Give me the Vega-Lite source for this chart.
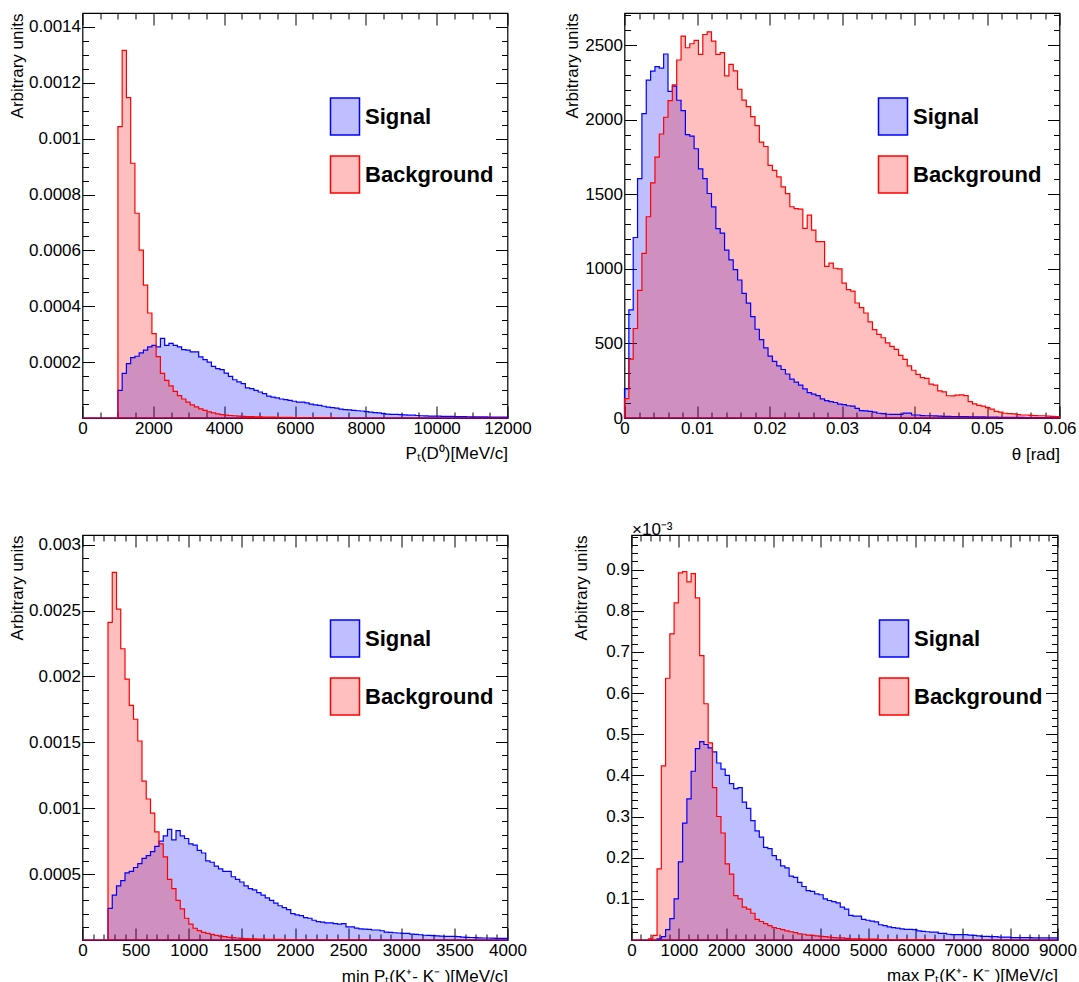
{
  "$schema": "https://vega.github.io/schema/vega-lite/v6.json",
  "background": "white",
  "padding": {"left": 7.5, "top": 11, "right": 0, "bottom": 0},
  "config": {
    "font": "Liberation Sans",
    "view": {"stroke": "black", "strokeWidth": 1.2},
    "axis": {"domain": false, "grid": false, "ticks": true, "tickColor": "black", "tickWidth": 1, "labelFont": "Liberation Sans", "labelFontSize": 17, "labelColor": "black", "titleFont": "Liberation Sans", "titleFontSize": 17, "titleFontWeight": "normal", "titleColor": "black", "labelOverlap": false, "labelFlush": false, "zindex": 1},
    "legend": {"orient": "none", "title": null, "padding": 0, "symbolType": "M-0.784,-1H0.784V1H-0.784Z", "symbolSize": 1369, "labelFont": "Liberation Sans", "labelFontSize": 22, "labelFontWeight": "bold", "labelColor": "black", "labelOffset": 0.5, "rowPadding": 15}
  },
  "datasets": {
    "p1": [
      {"x":0,"s":0,"b":0},
      {"x":1000,"s":0.000099,"b":0.001043},
      {"x":1120,"s":0.00016,"b":0.001316},
      {"x":1240,"s":0.000195,"b":0.001147},
      {"x":1360,"s":0.000216,"b":0.000912},
      {"x":1480,"s":0.000221,"b":0.000733},
      {"x":1600,"s":0.000233,"b":0.000601},
      {"x":1720,"s":0.000243,"b":0.000476},
      {"x":1840,"s":0.000255,"b":0.000376},
      {"x":1960,"s":0.00026,"b":0.000302},
      {"x":2080,"s":0.000255,"b":0.00022},
      {"x":2200,"s":0.000285,"b":0.00016},
      {"x":2320,"s":0.00026,"b":0.000135},
      {"x":2440,"s":0.000267,"b":0.000115},
      {"x":2560,"s":0.00026,"b":0.000095},
      {"x":2680,"s":0.000255,"b":0.00008},
      {"x":2800,"s":0.000245,"b":0.000068},
      {"x":2920,"s":0.000243,"b":0.000057},
      {"x":3040,"s":0.000237,"b":0.000047},
      {"x":3160,"s":0.000237,"b":0.00004},
      {"x":3280,"s":0.000219,"b":0.000033},
      {"x":3400,"s":0.000209,"b":0.000027},
      {"x":3520,"s":0.0002,"b":0.000022},
      {"x":3640,"s":0.000185,"b":0.000018},
      {"x":3760,"s":0.000177,"b":0.000015},
      {"x":3880,"s":0.000173,"b":0.000012},
      {"x":4000,"s":0.000161,"b":0.00001},
      {"x":4120,"s":0.000149,"b":0.000009},
      {"x":4240,"s":0.000137,"b":0.000008},
      {"x":4360,"s":0.000129,"b":0.000007},
      {"x":4480,"s":0.000123,"b":0.000006},
      {"x":4600,"s":0.000108,"b":0.000005},
      {"x":4720,"s":0.000105,"b":0.000005},
      {"x":4840,"s":0.000099,"b":0.000004},
      {"x":4960,"s":0.000093,"b":0.000004},
      {"x":5080,"s":0.000087,"b":0.000003},
      {"x":5200,"s":0.000078,"b":0.000003},
      {"x":5320,"s":0.000075,"b":0.000003},
      {"x":5440,"s":0.000072,"b":0.000002},
      {"x":5560,"s":0.000068,"b":0.000002},
      {"x":5680,"s":0.000066,"b":0.000002},
      {"x":5800,"s":0.000063,"b":0.000002},
      {"x":5920,"s":0.00006,"b":0.000001},
      {"x":6040,"s":0.000057,"b":0.000001},
      {"x":6160,"s":0.000057,"b":0.000001},
      {"x":6280,"s":0.000054,"b":0.000001},
      {"x":6400,"s":0.00005,"b":0.000001},
      {"x":6520,"s":0.000047,"b":0.000001},
      {"x":6640,"s":0.000045,"b":0.000001},
      {"x":6760,"s":0.000042,"b":0.000001},
      {"x":6880,"s":0.000039,"b":0.000001},
      {"x":7000,"s":0.000037,"b":0.000001},
      {"x":7120,"s":0.000035,"b":0},
      {"x":7240,"s":0.000032,"b":0},
      {"x":7360,"s":0.00003,"b":0},
      {"x":7480,"s":0.000029,"b":0},
      {"x":7600,"s":0.000027,"b":0},
      {"x":7720,"s":0.000026,"b":0},
      {"x":7840,"s":0.000025,"b":0},
      {"x":7960,"s":0.000023,"b":0},
      {"x":8080,"s":0.000021,"b":0},
      {"x":8200,"s":0.000019,"b":0},
      {"x":8320,"s":0.000018,"b":0},
      {"x":8440,"s":0.000016,"b":0},
      {"x":8560,"s":0.000014,"b":0},
      {"x":8680,"s":0.000013,"b":0},
      {"x":8800,"s":0.000013,"b":0},
      {"x":8920,"s":0.000012,"b":0},
      {"x":9040,"s":0.000011,"b":0},
      {"x":9160,"s":0.00001,"b":0},
      {"x":9280,"s":0.00001,"b":0},
      {"x":9400,"s":0.000009,"b":0},
      {"x":9520,"s":0.000008,"b":0},
      {"x":9640,"s":0.0000075,"b":0},
      {"x":9760,"s":0.000007,"b":0},
      {"x":9880,"s":0.000007,"b":0},
      {"x":10000,"s":0.0000065,"b":0},
      {"x":10120,"s":0.000006,"b":0},
      {"x":10240,"s":0.000006,"b":0},
      {"x":10360,"s":0.0000055,"b":0},
      {"x":10480,"s":0.000005,"b":0},
      {"x":10600,"s":0.000005,"b":0},
      {"x":10720,"s":0.0000048,"b":0},
      {"x":10840,"s":0.0000045,"b":0},
      {"x":10960,"s":0.0000042,"b":0},
      {"x":11080,"s":0.000004,"b":0},
      {"x":11200,"s":0.000004,"b":0},
      {"x":11320,"s":0.0000038,"b":0},
      {"x":11440,"s":0.0000035,"b":0},
      {"x":11560,"s":0.0000035,"b":0},
      {"x":11680,"s":0.0000033,"b":0},
      {"x":11800,"s":0.000003,"b":0},
      {"x":11920,"s":0.000003,"b":0},
      {"x":12000,"s":0,"b":0}
    ],
    "p2": [
      {"x":0,"s":195,"b":130},
      {"x":0.0006,"s":725,"b":395},
      {"x":0.0012,"s":1210,"b":600},
      {"x":0.0018,"s":1605,"b":856},
      {"x":0.0024,"s":2040,"b":1104},
      {"x":0.003,"s":2265,"b":1349},
      {"x":0.0036,"s":2325,"b":1576},
      {"x":0.0042,"s":2355,"b":1749},
      {"x":0.0048,"s":2345,"b":1904},
      {"x":0.0054,"s":2440,"b":2016},
      {"x":0.006,"s":2190,"b":2127},
      {"x":0.0066,"s":2225,"b":2233},
      {"x":0.0072,"s":2130,"b":2400},
      {"x":0.0078,"s":2060,"b":2560},
      {"x":0.0084,"s":1900,"b":2482},
      {"x":0.009,"s":1890,"b":2509},
      {"x":0.0096,"s":1805,"b":2531},
      {"x":0.0102,"s":1670,"b":2438},
      {"x":0.0108,"s":1605,"b":2571},
      {"x":0.0114,"s":1505,"b":2589},
      {"x":0.012,"s":1415,"b":2527},
      {"x":0.0126,"s":1270,"b":2438},
      {"x":0.0132,"s":1240,"b":2449},
      {"x":0.0138,"s":1125,"b":2293},
      {"x":0.0144,"s":1060,"b":2371},
      {"x":0.015,"s":995,"b":2327},
      {"x":0.0156,"s":925,"b":2204},
      {"x":0.0162,"s":835,"b":2131},
      {"x":0.0168,"s":770,"b":2087},
      {"x":0.0174,"s":680,"b":2020},
      {"x":0.018,"s":595,"b":1960},
      {"x":0.0186,"s":525,"b":1849},
      {"x":0.0192,"s":470,"b":1820},
      {"x":0.0198,"s":415,"b":1693},
      {"x":0.0204,"s":380,"b":1660},
      {"x":0.021,"s":350,"b":1616},
      {"x":0.0216,"s":325,"b":1549},
      {"x":0.0222,"s":295,"b":1504},
      {"x":0.0228,"s":260,"b":1416},
      {"x":0.0234,"s":240,"b":1404},
      {"x":0.024,"s":220,"b":1400},
      {"x":0.0246,"s":195,"b":1271},
      {"x":0.0252,"s":170,"b":1360},
      {"x":0.0258,"s":160,"b":1260},
      {"x":0.0264,"s":150,"b":1182},
      {"x":0.027,"s":128,"b":1182},
      {"x":0.0276,"s":116,"b":1016},
      {"x":0.0282,"s":110,"b":1038},
      {"x":0.0288,"s":104,"b":1004},
      {"x":0.0294,"s":93,"b":1000},
      {"x":0.03,"s":90,"b":904},
      {"x":0.0306,"s":82,"b":860},
      {"x":0.0312,"s":80,"b":850},
      {"x":0.0318,"s":65,"b":771},
      {"x":0.0324,"s":50,"b":740},
      {"x":0.033,"s":48,"b":704},
      {"x":0.0336,"s":45,"b":644},
      {"x":0.0342,"s":40,"b":593},
      {"x":0.0348,"s":32,"b":560},
      {"x":0.0354,"s":30,"b":538},
      {"x":0.036,"s":25,"b":504},
      {"x":0.0366,"s":24,"b":480},
      {"x":0.0372,"s":24,"b":460},
      {"x":0.0378,"s":24,"b":420},
      {"x":0.0384,"s":33,"b":393},
      {"x":0.039,"s":33,"b":349},
      {"x":0.0396,"s":20,"b":320},
      {"x":0.0402,"s":20,"b":293},
      {"x":0.0408,"s":16,"b":271},
      {"x":0.0414,"s":15,"b":265},
      {"x":0.042,"s":15,"b":227},
      {"x":0.0426,"s":14,"b":220},
      {"x":0.0432,"s":13,"b":182},
      {"x":0.0438,"s":11,"b":175},
      {"x":0.0444,"s":11,"b":149},
      {"x":0.045,"s":10,"b":148},
      {"x":0.0456,"s":10,"b":153},
      {"x":0.0462,"s":9,"b":155},
      {"x":0.0468,"s":9,"b":150},
      {"x":0.0474,"s":8,"b":110},
      {"x":0.048,"s":8,"b":95},
      {"x":0.0486,"s":7,"b":85},
      {"x":0.0492,"s":7,"b":80},
      {"x":0.0498,"s":6,"b":70},
      {"x":0.0504,"s":6,"b":60},
      {"x":0.051,"s":6,"b":45},
      {"x":0.0516,"s":5,"b":40},
      {"x":0.0522,"s":5,"b":32},
      {"x":0.0528,"s":5,"b":30},
      {"x":0.0534,"s":4,"b":28},
      {"x":0.054,"s":4,"b":22},
      {"x":0.0546,"s":4,"b":20},
      {"x":0.0552,"s":3,"b":20},
      {"x":0.0558,"s":3,"b":18},
      {"x":0.0564,"s":3,"b":16},
      {"x":0.057,"s":3,"b":15},
      {"x":0.0576,"s":2,"b":15},
      {"x":0.0582,"s":2,"b":12},
      {"x":0.0588,"s":2,"b":11},
      {"x":0.0594,"s":2,"b":10},
      {"x":0.06,"s":0,"b":0}
    ],
    "p3": [
      {"x":0,"s":0,"b":0},
      {"x":240,"s":0.00024,"b":0.00241},
      {"x":280,"s":0.00034,"b":0.00279},
      {"x":320,"s":0.00041,"b":0.00251},
      {"x":360,"s":0.00045,"b":0.00221},
      {"x":400,"s":0.00051,"b":0.00198},
      {"x":440,"s":0.00052,"b":0.00178},
      {"x":480,"s":0.00055,"b":0.001675},
      {"x":520,"s":0.00058,"b":0.00151},
      {"x":560,"s":0.00062,"b":0.001205},
      {"x":600,"s":0.00064,"b":0.00107},
      {"x":640,"s":0.00067,"b":0.000963},
      {"x":680,"s":0.00071,"b":0.00082},
      {"x":720,"s":0.00075,"b":0.00073},
      {"x":760,"s":0.00079,"b":0.00063},
      {"x":800,"s":0.00084,"b":0.00046},
      {"x":840,"s":0.00076,"b":0.00039},
      {"x":880,"s":0.00083,"b":0.0003},
      {"x":920,"s":0.00079,"b":0.000236},
      {"x":960,"s":0.00077,"b":0.000165},
      {"x":1000,"s":0.00073,"b":0.00012},
      {"x":1040,"s":0.00072,"b":0.000089},
      {"x":1080,"s":0.00068,"b":0.000071},
      {"x":1120,"s":0.00066,"b":0.000058},
      {"x":1160,"s":0.0006,"b":0.00005},
      {"x":1200,"s":0.00059,"b":0.000042},
      {"x":1240,"s":0.00056,"b":0.000035},
      {"x":1280,"s":0.00054,"b":0.00003},
      {"x":1320,"s":0.00052,"b":0.000025},
      {"x":1360,"s":0.00052,"b":0.00002},
      {"x":1400,"s":0.00048,"b":0.000018},
      {"x":1440,"s":0.00046,"b":0.000015},
      {"x":1480,"s":0.00044,"b":0.000013},
      {"x":1520,"s":0.00041,"b":0.000011},
      {"x":1560,"s":0.00039,"b":0.000009},
      {"x":1600,"s":0.00038,"b":0.000008},
      {"x":1640,"s":0.00036,"b":0.000007},
      {"x":1680,"s":0.00034,"b":0.000006},
      {"x":1720,"s":0.00032,"b":0.000005},
      {"x":1760,"s":0.0003,"b":0.000005},
      {"x":1800,"s":0.00028,"b":0.000004},
      {"x":1840,"s":0.00026,"b":0.000004},
      {"x":1880,"s":0.000245,"b":0.000003},
      {"x":1920,"s":0.00023,"b":0.000003},
      {"x":1960,"s":0.0002,"b":0.000003},
      {"x":2000,"s":0.00019,"b":0.000002},
      {"x":2040,"s":0.000185,"b":0.000002},
      {"x":2080,"s":0.00017,"b":0.000002},
      {"x":2120,"s":0.000165,"b":0.000002},
      {"x":2160,"s":0.00015,"b":0.000001},
      {"x":2200,"s":0.00014,"b":0.000001},
      {"x":2240,"s":0.000135,"b":0.000001},
      {"x":2280,"s":0.00013,"b":0.000001},
      {"x":2320,"s":0.00013,"b":0.000001},
      {"x":2360,"s":0.000125,"b":0.000001},
      {"x":2400,"s":0.00012,"b":0.000001},
      {"x":2440,"s":0.000125,"b":0.000001},
      {"x":2480,"s":0.0001,"b":0.000001},
      {"x":2520,"s":0.0001,"b":0.000001},
      {"x":2560,"s":0.00009,"b":0.000001},
      {"x":2600,"s":0.000085,"b":0.000001},
      {"x":2640,"s":0.000083,"b":0.000001},
      {"x":2680,"s":0.00008,"b":0},
      {"x":2720,"s":0.000076,"b":0},
      {"x":2760,"s":0.000076,"b":0},
      {"x":2800,"s":0.00007,"b":0},
      {"x":2840,"s":0.00006,"b":0},
      {"x":2880,"s":0.000058,"b":0},
      {"x":2920,"s":0.000055,"b":0},
      {"x":2960,"s":0.000053,"b":0},
      {"x":3000,"s":0.00005,"b":0},
      {"x":3040,"s":0.00005,"b":0},
      {"x":3080,"s":0.000045,"b":0},
      {"x":3120,"s":0.000042,"b":0},
      {"x":3160,"s":0.00004,"b":0},
      {"x":3200,"s":0.000036,"b":0},
      {"x":3240,"s":0.000035,"b":0},
      {"x":3280,"s":0.000033,"b":0},
      {"x":3320,"s":0.000032,"b":0},
      {"x":3360,"s":0.00003,"b":0},
      {"x":3400,"s":0.000028,"b":0},
      {"x":3440,"s":0.000028,"b":0},
      {"x":3480,"s":0.000027,"b":0},
      {"x":3520,"s":0.000025,"b":0},
      {"x":3560,"s":0.000022,"b":0},
      {"x":3600,"s":0.00002,"b":0},
      {"x":3640,"s":0.000019,"b":0},
      {"x":3680,"s":0.000018,"b":0},
      {"x":3720,"s":0.000016,"b":0},
      {"x":3760,"s":0.000015,"b":0},
      {"x":3800,"s":0.000015,"b":0},
      {"x":3840,"s":0.000014,"b":0},
      {"x":3880,"s":0.000013,"b":0},
      {"x":3920,"s":0.000013,"b":0},
      {"x":3960,"s":0.000012,"b":0},
      {"x":4000,"s":0,"b":0}
    ],
    "p4": [
      {"x":0,"s":0,"b":0},
      {"x":90,"s":0,"b":0},
      {"x":180,"s":0,"b":0},
      {"x":270,"s":0,"b":0},
      {"x":360,"s":0,"b":0.000003},
      {"x":450,"s":0,"b":0.000011},
      {"x":540,"s":0.000003,"b":0.000173},
      {"x":630,"s":0.000008,"b":0.000423},
      {"x":720,"s":0.000025,"b":0.000636},
      {"x":810,"s":0.000052,"b":0.000744},
      {"x":900,"s":0.0001,"b":0.000819},
      {"x":990,"s":0.00019,"b":0.000892},
      {"x":1080,"s":0.000284,"b":0.000895},
      {"x":1170,"s":0.000343,"b":0.00087},
      {"x":1260,"s":0.00041,"b":0.00089},
      {"x":1350,"s":0.000465,"b":0.000831},
      {"x":1440,"s":0.000482,"b":0.000691},
      {"x":1530,"s":0.000475,"b":0.000574},
      {"x":1620,"s":0.000467,"b":0.000479},
      {"x":1710,"s":0.000457,"b":0.00037},
      {"x":1800,"s":0.00043,"b":0.0003},
      {"x":1890,"s":0.000415,"b":0.00026},
      {"x":1980,"s":0.0004,"b":0.000185},
      {"x":2070,"s":0.00038,"b":0.00016},
      {"x":2160,"s":0.000368,"b":0.000108},
      {"x":2250,"s":0.00037,"b":0.0001},
      {"x":2340,"s":0.000335,"b":0.00008},
      {"x":2430,"s":0.00032,"b":0.000075},
      {"x":2520,"s":0.00029,"b":0.000065},
      {"x":2610,"s":0.000265,"b":0.00005},
      {"x":2700,"s":0.00025,"b":0.000045},
      {"x":2790,"s":0.000225,"b":0.00004},
      {"x":2880,"s":0.000222,"b":0.000035},
      {"x":2970,"s":0.000205,"b":0.00003},
      {"x":3060,"s":0.000195,"b":0.000028},
      {"x":3150,"s":0.00018,"b":0.000025},
      {"x":3240,"s":0.000175,"b":0.000022},
      {"x":3330,"s":0.000155,"b":0.00002},
      {"x":3420,"s":0.000152,"b":0.000018},
      {"x":3510,"s":0.00014,"b":0.000015},
      {"x":3600,"s":0.00013,"b":0.000014},
      {"x":3690,"s":0.00012,"b":0.000012},
      {"x":3780,"s":0.000118,"b":0.000011},
      {"x":3870,"s":0.000112,"b":0.00001},
      {"x":3960,"s":0.00011,"b":0.000009},
      {"x":4050,"s":0.0001,"b":0.000008},
      {"x":4140,"s":0.000096,"b":0.000007},
      {"x":4230,"s":0.000093,"b":0.000006},
      {"x":4320,"s":0.00009,"b":0.000005},
      {"x":4410,"s":0.00008,"b":0.000005},
      {"x":4500,"s":0.000075,"b":0.000004},
      {"x":4590,"s":0.00006,"b":0.000003},
      {"x":4680,"s":0.000058,"b":0.000003},
      {"x":4770,"s":0.000058,"b":0.000003},
      {"x":4860,"s":0.00005,"b":0.000002},
      {"x":4950,"s":0.000048,"b":0.000002},
      {"x":5040,"s":0.000046,"b":0.000002},
      {"x":5130,"s":0.000044,"b":0.000002},
      {"x":5220,"s":0.000037,"b":0.000001},
      {"x":5310,"s":0.000035,"b":0.000001},
      {"x":5400,"s":0.000032,"b":0.000001},
      {"x":5490,"s":0.00003,"b":0.000001},
      {"x":5580,"s":0.000029,"b":0.000001},
      {"x":5670,"s":0.000027,"b":0.000001},
      {"x":5760,"s":0.000026,"b":0.000001},
      {"x":5850,"s":0.000026,"b":0.000001},
      {"x":5940,"s":0.000025,"b":0.000001},
      {"x":6030,"s":0.000022,"b":0.000001},
      {"x":6120,"s":0.000021,"b":0.000001},
      {"x":6210,"s":0.00002,"b":0.000001},
      {"x":6300,"s":0.000019,"b":0.000001},
      {"x":6390,"s":0.000019,"b":0},
      {"x":6480,"s":0.000016,"b":0},
      {"x":6570,"s":0.000016,"b":0},
      {"x":6660,"s":0.000014,"b":0},
      {"x":6750,"s":0.000013,"b":0},
      {"x":6840,"s":0.000013,"b":0},
      {"x":6930,"s":0.000013,"b":0},
      {"x":7020,"s":0.000013,"b":0},
      {"x":7110,"s":0.000012,"b":0},
      {"x":7200,"s":0.000011,"b":0},
      {"x":7290,"s":0.00001,"b":0},
      {"x":7380,"s":0.000009,"b":0},
      {"x":7470,"s":0.000009,"b":0},
      {"x":7560,"s":0.000008,"b":0},
      {"x":7650,"s":0.000008,"b":0},
      {"x":7740,"s":0.000007,"b":0},
      {"x":7830,"s":0.000007,"b":0},
      {"x":7920,"s":0.000007,"b":0},
      {"x":8010,"s":0.000006,"b":0},
      {"x":8100,"s":0.000006,"b":0},
      {"x":8190,"s":0.000006,"b":0},
      {"x":8280,"s":0.000006,"b":0},
      {"x":8370,"s":0.000006,"b":0},
      {"x":8460,"s":0.000005,"b":0},
      {"x":8550,"s":0.000005,"b":0},
      {"x":8640,"s":0.000005,"b":0},
      {"x":8730,"s":0.000005,"b":0},
      {"x":8820,"s":0.000005,"b":0},
      {"x":8910,"s":0.000005,"b":0},
      {"x":9000,"s":0,"b":0}
    ]
  },
  "spacing": 56,
  "resolve": {"scale": {"color": "independent"}, "legend": {"color": "independent"}},
  "vconcat": [
    {
      "spacing": 117,
      "bounds": "flush",
      "resolve": {"scale": {"color": "independent"}, "legend": {"color": "independent"}},
      "hconcat": [
        {
          "width": 425, "height": 405,
          "data": {"name": "p1"},
          "resolve": {"axis": {"x": "independent", "y": "independent"}},
          "layer": [
            {
              "mark": {"type": "area", "interpolate": "step-after", "fillOpacity": 0.25},
              "encoding": {
                "x": {"field": "x", "type": "quantitative", "scale": {"domain": [0, 12000], "nice": false, "zero": false},
                      "axis": {"orient": "bottom", "values": [0, 2000, 4000, 6000, 8000, 10000, 12000], "labelExpr": "format(datum.value, '~r')", "tickSize": -12, "labelPadding": 14, "title": "Pₜ(D⁰)[MeV/c]", "titleAnchor": "end", "titleY": 40, "titleBaseline": "alphabetic"}},
                "y": {"field": "s", "type": "quantitative", "stack": null, "scale": {"domain": [0, 0.00145], "nice": false},
                      "axis": {"orient": "left", "values": [0.0002, 0.0004, 0.0006, 0.0008, 0.001, 0.0012, 0.0014], "labelExpr": "format(datum.value, '~r')", "tickSize": -12, "labelPadding": 14, "title": "Arbitrary units", "titleX": -60, "titleY": 0, "titleAngle": -90, "titleAlign": "right", "titleBaseline": "alphabetic"}},
                "color": {"datum": "Signal", "type": "nominal", "scale": {"domain": ["Signal", "Background"], "range": ["#0000ff", "#ff0000"]},
                          "legend": {"legendX": 243, "legendY": 84, "encode": {"symbols": {"update": {"fillOpacity": {"value": 0.25}, "stroke": {"signal": "datum.value === 'Signal' ? '#0000ff' : '#ff0000'"}, "strokeWidth": {"value": 1.5}}}}}}
              }
            },
            {
              "mark": {"type": "area", "interpolate": "step-after", "fillOpacity": 0.25},
              "encoding": {
                "x": {"field": "x", "type": "quantitative", "scale": {"domain": [0, 12000], "nice": false, "zero": false},
                      "axis": {"orient": "top", "values": [0, 2000, 4000, 6000, 8000, 10000, 12000], "labels": false, "tickSize": -12, "title": null}},
                "y": {"field": "b", "type": "quantitative", "stack": null, "scale": {"domain": [0, 0.00145], "nice": false},
                      "axis": {"orient": "right", "values": [0.0002, 0.0004, 0.0006, 0.0008, 0.001, 0.0012, 0.0014], "labels": false, "tickSize": -12, "title": null}},
                "color": {"datum": "Background", "type": "nominal"}
              }
            },
            {
              "mark": {"type": "area", "interpolate": "step-after", "fillOpacity": 0, "stroke": "#0000ff", "strokeWidth": 1.2, "strokeJoin": "miter"},
              "encoding": {
                "x": {"field": "x", "type": "quantitative", "scale": {"domain": [0, 12000], "nice": false, "zero": false},
                      "axis": {"orient": "bottom", "values": [500, 1000, 1500, 2500, 3000, 3500, 4500, 5000, 5500, 6500, 7000, 7500, 8500, 9000, 9500, 10500, 11000, 11500], "labels": false, "tickSize": -6, "title": null}},
                "y": {"field": "s", "type": "quantitative", "stack": null, "scale": {"domain": [0, 0.00145], "nice": false},
                      "axis": {"orient": "left", "values": [0.00005, 0.0001, 0.00015, 0.00025, 0.0003, 0.00035, 0.00045, 0.0005, 0.00055, 0.00065, 0.0007, 0.00075, 0.00085, 0.0009, 0.00095, 0.00105, 0.0011, 0.00115, 0.00125, 0.0013, 0.00135], "labels": false, "tickSize": -6, "title": null}}
              }
            },
            {
              "mark": {"type": "area", "interpolate": "step-after", "fillOpacity": 0, "stroke": "#ff0000", "strokeWidth": 1.2, "strokeJoin": "miter"},
              "encoding": {
                "x": {"field": "x", "type": "quantitative", "scale": {"domain": [0, 12000], "nice": false, "zero": false},
                      "axis": {"orient": "top", "values": [500, 1000, 1500, 2500, 3000, 3500, 4500, 5000, 5500, 6500, 7000, 7500, 8500, 9000, 9500, 10500, 11000, 11500], "labels": false, "tickSize": -6, "title": null}},
                "y": {"field": "b", "type": "quantitative", "stack": null, "scale": {"domain": [0, 0.00145], "nice": false},
                      "axis": {"orient": "right", "values": [0.00005, 0.0001, 0.00015, 0.00025, 0.0003, 0.00035, 0.00045, 0.0005, 0.00055, 0.00065, 0.0007, 0.00075, 0.00085, 0.0009, 0.00095, 0.00105, 0.0011, 0.00115, 0.00125, 0.0013, 0.00135], "labels": false, "tickSize": -6, "title": null}}
              }
            }
          ]
        },
        {
          "width": 435, "height": 405,
          "data": {"name": "p2"},
          "resolve": {"axis": {"x": "independent", "y": "independent"}},
          "layer": [
            {
              "mark": {"type": "area", "interpolate": "step-after", "fillOpacity": 0.25},
              "encoding": {
                "x": {"field": "x", "type": "quantitative", "scale": {"domain": [0, 0.06], "nice": false, "zero": false},
                      "axis": {"orient": "bottom", "values": [0, 0.01, 0.02, 0.03, 0.04, 0.05, 0.06], "labelExpr": "format(datum.value, '~r')", "tickSize": -12, "labelPadding": 14, "title": "θ [rad]", "titleAnchor": "end", "titleY": 41, "titleBaseline": "alphabetic"}},
                "y": {"field": "s", "type": "quantitative", "stack": null, "scale": {"domain": [0, 2715], "nice": false},
                      "axis": {"orient": "left", "values": [0, 500, 1000, 1500, 2000, 2500], "labelExpr": "format(datum.value, '~r')", "tickSize": -12, "labelPadding": 14, "title": "Arbitrary units", "titleX": -47, "titleY": 0, "titleAngle": -90, "titleAlign": "right", "titleBaseline": "alphabetic"}},
                "color": {"datum": "Signal", "type": "nominal", "scale": {"domain": ["Signal", "Background"], "range": ["#0000ff", "#ff0000"]},
                          "legend": {"legendX": 249, "legendY": 84, "encode": {"symbols": {"update": {"fillOpacity": {"value": 0.25}, "stroke": {"signal": "datum.value === 'Signal' ? '#0000ff' : '#ff0000'"}, "strokeWidth": {"value": 1.5}}}}}}
              }
            },
            {
              "mark": {"type": "area", "interpolate": "step-after", "fillOpacity": 0.25},
              "encoding": {
                "x": {"field": "x", "type": "quantitative", "scale": {"domain": [0, 0.06], "nice": false, "zero": false},
                      "axis": {"orient": "top", "values": [0, 0.01, 0.02, 0.03, 0.04, 0.05, 0.06], "labels": false, "tickSize": -12, "title": null}},
                "y": {"field": "b", "type": "quantitative", "stack": null, "scale": {"domain": [0, 2715], "nice": false},
                      "axis": {"orient": "right", "values": [0, 500, 1000, 1500, 2000, 2500], "labels": false, "tickSize": -12, "title": null}},
                "color": {"datum": "Background", "type": "nominal"}
              }
            },
            {
              "mark": {"type": "area", "interpolate": "step-after", "fillOpacity": 0, "stroke": "#0000ff", "strokeWidth": 1.2, "strokeJoin": "miter"},
              "encoding": {
                "x": {"field": "x", "type": "quantitative", "scale": {"domain": [0, 0.06], "nice": false, "zero": false},
                      "axis": {"orient": "bottom", "values": [0.002, 0.004, 0.006, 0.008, 0.012, 0.014, 0.016, 0.018, 0.022, 0.024, 0.026, 0.028, 0.032, 0.034, 0.036, 0.038, 0.042, 0.044, 0.046, 0.048, 0.052, 0.054, 0.056, 0.058], "labels": false, "tickSize": -6, "title": null}},
                "y": {"field": "s", "type": "quantitative", "stack": null, "scale": {"domain": [0, 2715], "nice": false},
                      "axis": {"orient": "left", "values": [100, 200, 300, 400, 600, 700, 800, 900, 1100, 1200, 1300, 1400, 1600, 1700, 1800, 1900, 2100, 2200, 2300, 2400, 2600, 2700], "labels": false, "tickSize": -6, "title": null}}
              }
            },
            {
              "mark": {"type": "area", "interpolate": "step-after", "fillOpacity": 0, "stroke": "#ff0000", "strokeWidth": 1.2, "strokeJoin": "miter"},
              "encoding": {
                "x": {"field": "x", "type": "quantitative", "scale": {"domain": [0, 0.06], "nice": false, "zero": false},
                      "axis": {"orient": "top", "values": [0.002, 0.004, 0.006, 0.008, 0.012, 0.014, 0.016, 0.018, 0.022, 0.024, 0.026, 0.028, 0.032, 0.034, 0.036, 0.038, 0.042, 0.044, 0.046, 0.048, 0.052, 0.054, 0.056, 0.058], "labels": false, "tickSize": -6, "title": null}},
                "y": {"field": "b", "type": "quantitative", "stack": null, "scale": {"domain": [0, 2715], "nice": false},
                      "axis": {"orient": "right", "values": [100, 200, 300, 400, 600, 700, 800, 900, 1100, 1200, 1300, 1400, 1600, 1700, 1800, 1900, 2100, 2200, 2300, 2400, 2600, 2700], "labels": false, "tickSize": -6, "title": null}}
              }
            }
          ]
        }
      ]
    },
    {
      "spacing": 124,
      "bounds": "flush",
      "resolve": {"scale": {"color": "independent"}, "legend": {"color": "independent"}},
      "hconcat": [
        {
          "width": 425, "height": 405,
          "data": {"name": "p3"},
          "resolve": {"axis": {"x": "independent", "y": "independent"}},
          "layer": [
            {
              "mark": {"type": "area", "interpolate": "step-after", "fillOpacity": 0.25},
              "encoding": {
                "x": {"field": "x", "type": "quantitative", "scale": {"domain": [0, 4000], "nice": false, "zero": false},
                      "axis": {"orient": "bottom", "values": [0, 500, 1000, 1500, 2000, 2500, 3000, 3500, 4000], "labelExpr": "format(datum.value, '~r')", "tickSize": -12, "labelPadding": 14, "title": "min Pₜ(K⁺- K⁻ )[MeV/c]", "titleAnchor": "end", "titleY": 41, "titleBaseline": "alphabetic"}},
                "y": {"field": "s", "type": "quantitative", "stack": null, "scale": {"domain": [0, 0.003073], "nice": false},
                      "axis": {"orient": "left", "values": [0.0005, 0.001, 0.0015, 0.002, 0.0025, 0.003], "labelExpr": "format(datum.value, '~r')", "tickSize": -12, "labelPadding": 14, "title": "Arbitrary units", "titleX": -60, "titleY": 0, "titleAngle": -90, "titleAlign": "right", "titleBaseline": "alphabetic"}},
                "color": {"datum": "Signal", "type": "nominal", "scale": {"domain": ["Signal", "Background"], "range": ["#0000ff", "#ff0000"]},
                          "legend": {"legendX": 243, "legendY": 84, "encode": {"symbols": {"update": {"fillOpacity": {"value": 0.25}, "stroke": {"signal": "datum.value === 'Signal' ? '#0000ff' : '#ff0000'"}, "strokeWidth": {"value": 1.5}}}}}}
              }
            },
            {
              "mark": {"type": "area", "interpolate": "step-after", "fillOpacity": 0.25},
              "encoding": {
                "x": {"field": "x", "type": "quantitative", "scale": {"domain": [0, 4000], "nice": false, "zero": false},
                      "axis": {"orient": "top", "values": [0, 500, 1000, 1500, 2000, 2500, 3000, 3500, 4000], "labels": false, "tickSize": -12, "title": null}},
                "y": {"field": "b", "type": "quantitative", "stack": null, "scale": {"domain": [0, 0.003073], "nice": false},
                      "axis": {"orient": "right", "values": [0.0005, 0.001, 0.0015, 0.002, 0.0025, 0.003], "labels": false, "tickSize": -12, "title": null}},
                "color": {"datum": "Background", "type": "nominal"}
              }
            },
            {
              "mark": {"type": "area", "interpolate": "step-after", "fillOpacity": 0, "stroke": "#0000ff", "strokeWidth": 1.2, "strokeJoin": "miter"},
              "encoding": {
                "x": {"field": "x", "type": "quantitative", "scale": {"domain": [0, 4000], "nice": false, "zero": false},
                      "axis": {"orient": "bottom", "values": [100, 200, 300, 400, 600, 700, 800, 900, 1100, 1200, 1300, 1400, 1600, 1700, 1800, 1900, 2100, 2200, 2300, 2400, 2600, 2700, 2800, 2900, 3100, 3200, 3300, 3400, 3600, 3700, 3800, 3900], "labels": false, "tickSize": -6, "title": null}},
                "y": {"field": "s", "type": "quantitative", "stack": null, "scale": {"domain": [0, 0.003073], "nice": false},
                      "axis": {"orient": "left", "values": [0.0001, 0.0002, 0.0003, 0.0004, 0.0006, 0.0007, 0.0008, 0.0009, 0.0011, 0.0012, 0.0013, 0.0014, 0.0016, 0.0017, 0.0018, 0.0019, 0.0021, 0.0022, 0.0023, 0.0024, 0.0026, 0.0027, 0.0028, 0.0029], "labels": false, "tickSize": -6, "title": null}}
              }
            },
            {
              "mark": {"type": "area", "interpolate": "step-after", "fillOpacity": 0, "stroke": "#ff0000", "strokeWidth": 1.2, "strokeJoin": "miter"},
              "encoding": {
                "x": {"field": "x", "type": "quantitative", "scale": {"domain": [0, 4000], "nice": false, "zero": false},
                      "axis": {"orient": "top", "values": [100, 200, 300, 400, 600, 700, 800, 900, 1100, 1200, 1300, 1400, 1600, 1700, 1800, 1900, 2100, 2200, 2300, 2400, 2600, 2700, 2800, 2900, 3100, 3200, 3300, 3400, 3600, 3700, 3800, 3900], "labels": false, "tickSize": -6, "title": null}},
                "y": {"field": "b", "type": "quantitative", "stack": null, "scale": {"domain": [0, 0.003073], "nice": false},
                      "axis": {"orient": "right", "values": [0.0001, 0.0002, 0.0003, 0.0004, 0.0006, 0.0007, 0.0008, 0.0009, 0.0011, 0.0012, 0.0013, 0.0014, 0.0016, 0.0017, 0.0018, 0.0019, 0.0021, 0.0022, 0.0023, 0.0024, 0.0026, 0.0027, 0.0028, 0.0029], "labels": false, "tickSize": -6, "title": null}}
              }
            }
          ]
        },
        {
          "width": 426, "height": 405,
          "data": {"name": "p4"},
          "resolve": {"axis": {"x": "independent", "y": "independent"}},
          "layer": [
            {
              "mark": {"type": "area", "interpolate": "step-after", "fillOpacity": 0.25},
              "encoding": {
                "x": {"field": "x", "type": "quantitative", "scale": {"domain": [0, 9000], "nice": false, "zero": false},
                      "axis": {"orient": "bottom", "values": [0, 1000, 2000, 3000, 4000, 5000, 6000, 7000, 8000, 9000], "labelExpr": "format(datum.value, '~r')", "tickSize": -12, "labelPadding": 14, "title": "max Pₜ(K⁺- K⁻ )[MeV/c]", "titleAnchor": "end", "titleY": 40, "titleBaseline": "alphabetic"}},
                "y": {"field": "s", "type": "quantitative", "stack": null, "scale": {"domain": [0, 0.000984], "nice": false},
                      "axis": {"orient": "left", "values": [0.0001, 0.0002, 0.0003, 0.0004, 0.0005, 0.0006, 0.0007, 0.0008, 0.0009], "labelExpr": "format(datum.value * 1000, '.1f')", "tickSize": -12, "labelPadding": 14, "title": "Arbitrary units", "titleX": -45, "titleY": 0, "titleAngle": -90, "titleAlign": "right", "titleBaseline": "alphabetic"}},
                "color": {"datum": "Signal", "type": "nominal", "scale": {"domain": ["Signal", "Background"], "range": ["#0000ff", "#ff0000"]},
                          "legend": {"legendX": 243, "legendY": 84, "encode": {"symbols": {"update": {"fillOpacity": {"value": 0.25}, "stroke": {"signal": "datum.value === 'Signal' ? '#0000ff' : '#ff0000'"}, "strokeWidth": {"value": 1.5}}}}}}
              }
            },
            {
              "mark": {"type": "area", "interpolate": "step-after", "fillOpacity": 0.25},
              "encoding": {
                "x": {"field": "x", "type": "quantitative", "scale": {"domain": [0, 9000], "nice": false, "zero": false},
                      "axis": {"orient": "top", "values": [0, 1000, 2000, 3000, 4000, 5000, 6000, 7000, 8000, 9000], "labels": false, "tickSize": -12, "title": "×10⁻³", "titleAnchor": "start", "titleX": 0, "titleY": -1, "titleAlign": "left", "titleAngle": 0, "titleBaseline": "alphabetic"}},
                "y": {"field": "b", "type": "quantitative", "stack": null, "scale": {"domain": [0, 0.000984], "nice": false},
                      "axis": {"orient": "right", "values": [0.0001, 0.0002, 0.0003, 0.0004, 0.0005, 0.0006, 0.0007, 0.0008, 0.0009], "labels": false, "tickSize": -12, "title": null}},
                "color": {"datum": "Background", "type": "nominal"}
              }
            },
            {
              "mark": {"type": "area", "interpolate": "step-after", "fillOpacity": 0, "stroke": "#0000ff", "strokeWidth": 1.2, "strokeJoin": "miter"},
              "encoding": {
                "x": {"field": "x", "type": "quantitative", "scale": {"domain": [0, 9000], "nice": false, "zero": false},
                      "axis": {"orient": "bottom", "values": [200, 400, 600, 800, 1200, 1400, 1600, 1800, 2200, 2400, 2600, 2800, 3200, 3400, 3600, 3800, 4200, 4400, 4600, 4800, 5200, 5400, 5600, 5800, 6200, 6400, 6600, 6800, 7200, 7400, 7600, 7800, 8200, 8400, 8600, 8800], "labels": false, "tickSize": -6, "title": null}},
                "y": {"field": "s", "type": "quantitative", "stack": null, "scale": {"domain": [0, 0.000984], "nice": false},
                      "axis": {"orient": "left", "values": [0.00002, 0.00004, 0.00006, 0.00008, 0.00012, 0.00014, 0.00016, 0.00018, 0.00022, 0.00024, 0.00026, 0.00028, 0.00032, 0.00034, 0.00036, 0.00038, 0.00042, 0.00044, 0.00046, 0.00048, 0.00052, 0.00054, 0.00056, 0.00058, 0.00062, 0.00064, 0.00066, 0.00068, 0.00072, 0.00074, 0.00076, 0.00078, 0.00082, 0.00084, 0.00086, 0.00088, 0.00092, 0.00094, 0.00096, 0.00098], "labels": false, "tickSize": -6, "title": null}}
              }
            },
            {
              "mark": {"type": "area", "interpolate": "step-after", "fillOpacity": 0, "stroke": "#ff0000", "strokeWidth": 1.2, "strokeJoin": "miter"},
              "encoding": {
                "x": {"field": "x", "type": "quantitative", "scale": {"domain": [0, 9000], "nice": false, "zero": false},
                      "axis": {"orient": "top", "values": [200, 400, 600, 800, 1200, 1400, 1600, 1800, 2200, 2400, 2600, 2800, 3200, 3400, 3600, 3800, 4200, 4400, 4600, 4800, 5200, 5400, 5600, 5800, 6200, 6400, 6600, 6800, 7200, 7400, 7600, 7800, 8200, 8400, 8600, 8800], "labels": false, "tickSize": -6, "title": null}},
                "y": {"field": "b", "type": "quantitative", "stack": null, "scale": {"domain": [0, 0.000984], "nice": false},
                      "axis": {"orient": "right", "values": [0.00002, 0.00004, 0.00006, 0.00008, 0.00012, 0.00014, 0.00016, 0.00018, 0.00022, 0.00024, 0.00026, 0.00028, 0.00032, 0.00034, 0.00036, 0.00038, 0.00042, 0.00044, 0.00046, 0.00048, 0.00052, 0.00054, 0.00056, 0.00058, 0.00062, 0.00064, 0.00066, 0.00068, 0.00072, 0.00074, 0.00076, 0.00078, 0.00082, 0.00084, 0.00086, 0.00088, 0.00092, 0.00094, 0.00096, 0.00098], "labels": false, "tickSize": -6, "title": null}}
              }
            }
          ]
        }
      ]
    }
  ]
}
